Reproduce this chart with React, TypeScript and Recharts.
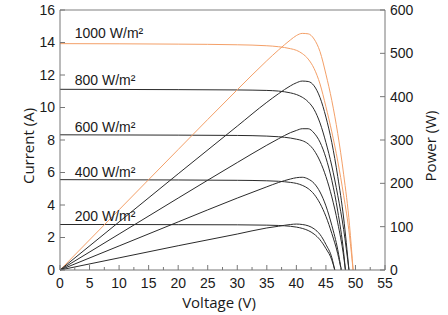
import React from 'react';
import { LineChart, Line, XAxis, YAxis, ReferenceLine, ReferenceDot } from 'recharts';

// voltage sample points per irradiance (V)
const voltage1000 = [0, 10, 20, 30, 35, 37, 39, 40, 41, 42, 43, 44, 45, 46, 47, 48, 49, 49.6];
const voltage800 = [0, 10, 20, 30, 35, 37, 39, 40, 41, 42, 43, 44, 45, 46, 47, 48, 48.9];
const voltage600 = [0, 10, 20, 30, 35, 37, 39, 40, 41, 42, 43, 44, 45, 46, 47, 48, 48.3];
const voltage400 = [0, 10, 20, 30, 35, 37, 39, 40, 41, 42, 43, 44, 45, 46, 47, 47.6];
const voltage200 = [0, 10, 20, 30, 35, 37, 39, 40, 41, 42, 43, 44, 45, 46, 46.5];

// current (A)
const current1000 = [13.93, 13.92, 13.9, 13.86, 13.8, 13.74, 13.62, 13.52, 13.32, 12.98, 12.4, 11.45, 10.05, 8.5, 6.7, 4.6, 2.1, 0];
const current800 = [11.12, 11.11, 11.1, 11.08, 11.05, 11.01, 10.9, 10.8, 10.63, 10.35, 9.88, 9.05, 7.85, 6.4, 4.6, 2.5, 0];
const current600 = [8.32, 8.31, 8.3, 8.28, 8.24, 8.2, 8.12, 8.05, 7.96, 7.76, 7.36, 6.7, 5.75, 4.5, 2.9, 0.85, 0];
const current400 = [5.56, 5.55, 5.54, 5.52, 5.49, 5.46, 5.39, 5.33, 5.21, 5.01, 4.66, 4.1, 3.3, 2.25, 1.0, 0];
const current200 = [2.8, 2.8, 2.79, 2.78, 2.76, 2.74, 2.69, 2.64, 2.56, 2.43, 2.21, 1.86, 1.32, 0.62, 0];

// power (W)
const power1000 = [0, 139, 278, 416, 483, 508, 531, 541, 546, 545, 533, 504, 452, 391, 315, 221, 103, 0];
const power800 = [0, 111, 222, 332, 387, 407, 425, 432, 436, 435, 425, 398, 353, 294, 216, 120, 0];
const power600 = [0, 83, 166, 248, 288, 303, 317, 322, 326, 326, 316, 295, 259, 207, 136, 41, 0];
const power400 = [0, 55.5, 111, 166, 192, 202, 210, 213, 214, 210, 200, 180, 148, 103, 47, 0];
const power200 = [0, 28, 56, 83, 97, 101, 105, 106, 105, 102, 95, 82, 59, 28.5, 0];

const irradianceLabels = ['1000 W/m²', '800 W/m²', '600 W/m²', '400 W/m²', '200 W/m²'];
const labelAnchorV = [2.5, 2.5, 2.5, 2.5, 2.5];
const labelAnchorI = [14.6, 11.7, 8.8, 6.05, 3.3];

const xTicks = [0, 2.5, 5, 7.5, 10, 12.5, 15, 17.5, 20, 22.5, 25, 27.5, 30, 32.5, 35, 37.5, 40, 42.5, 45, 47.5, 50, 52.5, 55];
const currentTicks = [0, 2, 4, 6, 8, 10, 12, 14, 16];
const powerTicks = [0, 100, 200, 300, 400, 500, 600];

const build = (v: number[], i: number[], p: number[]) =>
  v.map((x, k) => ({ v: x, i: i[k], p: p[k] }));

const series = [
  { data: build(voltage1000, current1000, power1000), color: '#F4A068' },
  { data: build(voltage800, current800, power800), color: '#2b2b2b' },
  { data: build(voltage600, current600, power600), color: '#2b2b2b' },
  { data: build(voltage400, current400, power400), color: '#2b2b2b' },
  { data: build(voltage200, current200, power200), color: '#2b2b2b' },
];

const tickFont = { fontFamily: 'Liberation Sans, Arial, sans-serif', fontSize: 14, fill: '#1a1a1a' };
const titleFont = { fontFamily: 'Open Sans, sans-serif', fontSize: 15, fill: '#1a1a1a' };
const axisColor = '#777';

const XTick = (props: any) => {
  const { x, y, payload } = props;
  const major = payload.value % 5 === 0;
  return (
    <g>
      <line x1={x} x2={x} y1={y} y2={y - (major ? 5 : 3)} stroke={axisColor} />
      {major && (
        <text x={x} y={y + 18} textAnchor="middle" {...tickFont}>
          {payload.value}
        </text>
      )}
    </g>
  );
};

export default function App() {
  return (
    <div style={{ position: 'absolute', left: 0, top: 0 }}>
      <LineChart width={448} height={315} margin={{ top: 10, right: 0, bottom: 0, left: 0 }}>
        <XAxis
          dataKey="v"
          type="number"
          domain={[0, 55]}
          ticks={xTicks}
          interval={0}
          height={45}
          stroke={axisColor}
          tickLine={false}
          tickSize={0}
          tickMargin={0}
          tick={<XTick />}
          label={() => (
            <text x={219} y={308} textAnchor="middle" {...titleFont}>
              Voltage (V)
            </text>
          )}
        />
        <YAxis
          yAxisId="left"
          type="number"
          domain={[0, 16]}
          ticks={currentTicks}
          interval={0}
          width={60}
          stroke={axisColor}
          tickSize={-5}
          tickMargin={10}
          tick={tickFont}
          label={() => (
            <text transform="translate(28,146) rotate(-90)" textAnchor="middle" dominantBaseline="central" {...titleFont}>
              Current (A)
            </text>
          )}
        />
        <YAxis
          yAxisId="right"
          orientation="right"
          type="number"
          domain={[0, 600]}
          ticks={powerTicks}
          interval={0}
          width={63}
          stroke={axisColor}
          tickSize={-5}
          tickMargin={10}
          tick={tickFont}
          label={() => (
            <text transform="translate(430,146) rotate(-90)" textAnchor="middle" dominantBaseline="central" {...titleFont}>
              Power (W)
            </text>
          )}
        />
        <ReferenceLine yAxisId="left" y={16} stroke="#aaa" strokeWidth={1.5} />
        {series.map((s, k) => (
          <Line
            key={'i' + k}
            yAxisId="left"
            data={s.data}
            dataKey="i"
            type="monotone"
            stroke={s.color}
            strokeWidth={1}
            dot={false}
            isAnimationActive={false}
          />
        ))}
        {series.map((s, k) => (
          <Line
            key={'p' + k}
            yAxisId="right"
            data={s.data}
            dataKey="p"
            type="monotone"
            stroke={s.color}
            strokeWidth={1}
            dot={false}
            isAnimationActive={false}
          />
        ))}
        {irradianceLabels.map((t, k) => (
          <ReferenceDot
            key={t}
            yAxisId="left"
            x={labelAnchorV[k]}
            y={labelAnchorI[k]}
            r={0}
            shape={(p: any) => (
              <text x={p.cx} y={p.cy} dominantBaseline="central" fontFamily="Liberation Sans, Arial, sans-serif" fontSize={14} fill="#1a1a1a">
                {t}
              </text>
            )}
          />
        ))}
      </LineChart>
    </div>
  );
}
